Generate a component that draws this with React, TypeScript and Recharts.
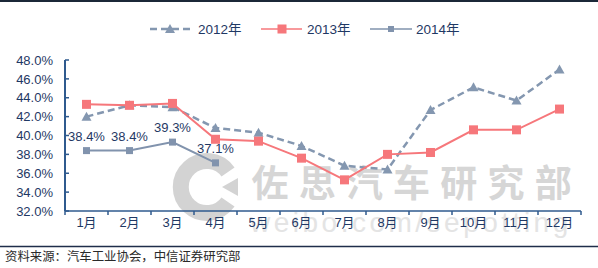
import React from 'react';
import { LineChart, Line, XAxis, YAxis, LabelList } from 'recharts';

const months = ['1月', '2月', '3月', '4月', '5月', '6月', '7月', '8月', '9月', '10月', '11月', '12月'];
const share2012 = [42.0, 43.2, 43.0, 40.8, 40.3, 38.9, 36.8, 36.4, 42.7, 45.1, 43.7, 47.0];
const share2013 = [43.3, 43.2, 43.4, 39.6, 39.4, 37.6, 35.3, 38.0, 38.2, 40.6, 40.6, 42.8];
const share2014 = [38.4, 38.4, 39.3, 37.1];
const yTicks = [32, 34, 36, 38, 40, 42, 44, 46, 48];
const seriesNames = ['2012年', '2013年', '2014年'];
const sourceText = '资料来源：汽车工业协会，中信证券研究部';
const watermarkChars = ['佐', '思', '汽', '车', '研', '究', '部'];
const watermarkUrl = 'weibo.com/sepotting';

const data = months.map((m, i) => ({
  month: m,
  s2012: share2012[i],
  s2013: share2013[i],
  s2014: i < share2014.length ? share2014[i] : null,
}));

const FONT = "'Liberation Sans', Arial, 'Noto Sans CJK SC', sans-serif";
const NAVY = '#1F3864';
const C2012 = '#8497B0';
const C2013 = '#F6777B';
const C2014 = '#8193AD';
const AXIS = '#2F5A8E';

const TriangleDot = (props: any) => {
  const { cx, cy, index } = props;
  if (cx == null || cy == null) return <g key={`t${index}`} />;
  return <path key={`t${index}`} d={`M${cx},${cy - 5} L${cx + 5},${cy + 4} L${cx - 5},${cy + 4} Z`} fill={C2012} />;
};
const SquareDot = (size: number, color: string) => (props: any) => {
  const { cx, cy, index } = props;
  if (cx == null || cy == null || props.value == null) return <g key={`s${index}`} />;
  return <rect key={`s${index}`} x={cx - size / 2} y={cy - size / 2} width={size} height={size} fill={color} />;
};

const YTick = (props: any) => {
  const { x, y, payload } = props;
  return (
    <g>
      <text x={x} y={y} dy="0.36em" textAnchor="end" fill={NAVY} fontSize={13} fontFamily={FONT}>
        {payload.value.toFixed(1)}%
      </text>
      <line x1={x + 12} x2={x + 16} y1={y} y2={y} stroke={AXIS} strokeWidth={1.5} />
    </g>
  );
};

const XTick = (props: any) => {
  const { x, y, payload, index } = props;
  const half = 21.5;
  return (
    <g>
      <line x1={x - half} x2={x - half} y1={y} y2={y + 4} stroke={AXIS} strokeWidth={1.5} />
      {index === months.length - 1 && (
        <line x1={x + half} x2={x + half} y1={y} y2={y + 4} stroke={AXIS} strokeWidth={1.5} />
      )}
      <text x={x} y={y + 11} dy="0.36em" textAnchor="middle" fill={NAVY} fontSize={13} fontFamily={FONT}>
        {payload.value}
      </text>
    </g>
  );
};

export default function App() {
  return (
    <div style={{ position: 'absolute', left: 0, top: 0, width: 598, height: 268, background: '#fff', overflow: 'hidden' }}>
      <svg width={598} height={268} style={{ position: 'absolute', left: 0, top: 0 }}>
        {/* watermark */}
        <path d="M228,172 A26,26 0 1,0 228,202" fill="none" stroke="#d3d3d3" strokeWidth={16} />
        <path d="M222,187 L238,178 L238,196 Z" fill="#d3d3d3" />
        {watermarkChars.map((c, i) => (
          <text key={c} x={270 + i * 47.2} y={197} textAnchor="middle" fontSize={37} fontWeight="bold" fill="#d6d6d6" fontFamily="'Noto Sans CJK SC', sans-serif">
            {c}
          </text>
        ))}
        <text x={250} y={232} fontSize={28} fill="#e4e4e4" fontFamily={FONT} letterSpacing={3.5}>
          {watermarkUrl}
        </text>
      </svg>

      <div style={{ position: 'absolute', left: 0, top: 0 }}>
        <LineChart width={598} height={246} data={data} margin={{ top: 60, right: 17, bottom: 5, left: 0 }}>
          <XAxis
            dataKey="month"
            height={30}
            padding={{ left: 21.5, right: 21.5 }}
            tick={<XTick />}
            tickLine={false}
            tickSize={0}
            tickMargin={0}
            interval={0}
            axisLine={{ stroke: AXIS, strokeWidth: 1.5 }}
          />
          <YAxis
            width={65}
            domain={[32, 48]}
            ticks={yTicks}
            interval={0}
            tick={<YTick />}
            tickLine={false}
            tickSize={0}
            tickMargin={12}
            axisLine={{ stroke: AXIS, strokeWidth: 2 }}
          />
          <Line
            dataKey="s2012"
            name={seriesNames[0]}
            stroke={C2012}
            strokeWidth={2.5}
            strokeDasharray="7 4"
            dot={TriangleDot}
            activeDot={false}
            isAnimationActive={false}
          />
          <Line
            dataKey="s2013"
            name={seriesNames[1]}
            stroke={C2013}
            strokeWidth={2}
            dot={SquareDot(9, C2013)}
            activeDot={false}
            isAnimationActive={false}
          />
          <Line
            dataKey="s2014"
            name={seriesNames[2]}
            stroke={C2014}
            strokeWidth={2}
            dot={SquareDot(7, C2014)}
            activeDot={false}
            isAnimationActive={false}
          >
            <LabelList
              dataKey="s2014"
              position="top"
              offset={10}
              fill={NAVY}
              fontSize={13}
              fontFamily={FONT}
              formatter={(v: any) => (v == null ? '' : `${Number(v).toFixed(1)}%`)}
            />
          </Line>
        </LineChart>
      </div>

      <svg width={598} height={268} style={{ position: 'absolute', left: 0, top: 0, pointerEvents: 'none' }}>
        {/* frame lines */}
        <line x1={0} x2={598} y1={1} y2={1} stroke="#1B2838" strokeWidth={2} />
        <line x1={0} x2={598} y1={246.5} y2={246.5} stroke="#1F2D4A" strokeWidth={1.5} />
        {/* legend */}
        <line x1={150} x2={190} y1={29} y2={29} stroke={C2012} strokeWidth={2.5} strokeDasharray="7 4" />
        <path d="M170,24 L175,33 L165,33 Z" fill={C2012} />
        <text x={198} y={29} dy="0.36em" fontSize={13.5} fill={NAVY} fontFamily={FONT}>{seriesNames[0]}</text>
        <line x1={261} x2={302} y1={29} y2={29} stroke={C2013} strokeWidth={1.5} />
        <rect x={277.5} y={24.5} width={9} height={9} fill={C2013} />
        <text x={307} y={29} dy="0.36em" fontSize={13.5} fill={NAVY} fontFamily={FONT}>{seriesNames[1]}</text>
        <line x1={370} x2={412} y1={29} y2={29} stroke={C2014} strokeWidth={1.5} />
        <rect x={388} y={26} width={6} height={6} fill={C2014} />
        <text x={416} y={29} dy="0.36em" fontSize={13.5} fill={NAVY} fontFamily={FONT}>{seriesNames[2]}</text>
        {/* source */}
        <text x={5} y={257} dy="0.36em" fontSize={12.4} fill="#2a2a2a" fontFamily="'Noto Sans CJK SC', sans-serif">{sourceText}</text>
      </svg>
    </div>
  );
}
